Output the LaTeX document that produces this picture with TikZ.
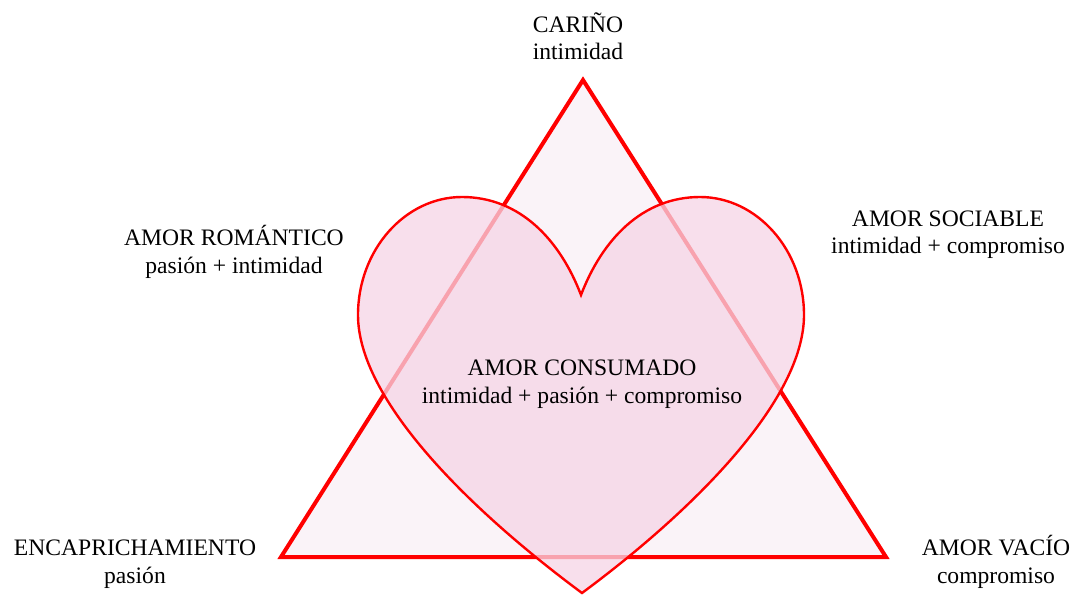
\documentclass[tikz,border=0pt]{standalone}
\usepackage{fontspec}
\setmainfont{Liberation Serif}
\definecolor{trifill}{RGB}{250,243,248}
\definecolor{heartfill}{RGB}{246,213,230}
\definecolor{lovered}{RGB}{255,0,0}
\begin{document}
\begin{tikzpicture}[x=1pt,y=-1pt,
  lbl/.style={align=center,anchor=base,inner sep=0pt,font=\fontsize{23.6}{27.5}\selectfont},
  tri/.style={draw=lovered,line width=4pt,fill=trifill,line join=miter},
  heartstyle/.style={draw=lovered,line width=2.4pt,fill=heartfill,fill opacity=0.76}]
\useasboundingbox (0,0) rectangle (1076,596);
\coordinate (apex) at (583,80);
\coordinate (bl) at (281,557);
\coordinate (br) at (886,557);
\draw[tri] (apex) -- (bl) -- (br) -- cycle;
\coordinate (notch) at (581,295);
\coordinate (ltop) at (462,197);
\coordinate (ledge) at (358,315);
\coordinate (tip) at (582,593);
\coordinate (redge) at (804,315);
\coordinate (rtop) at (700,197);
\draw[heartstyle] (notch) .. controls (560,240) and (520,197) .. (ltop)
  .. controls (405,197) and (358,250) .. (ledge)
  .. controls (358,400) and (470,510) .. (tip)
  .. controls (694,510) and (804,400) .. (redge)
  .. controls (804,250) and (757,197) .. (rtop)
  .. controls (642,197) and (602,240) .. (notch) -- cycle;
\node[lbl] (carino) at (578,60) {CARIÑO\\intimidad};
\node[lbl] (romantico) at (234,273) {AMOR ROMÁNTICO\\pasión + intimidad};
\node[lbl] (sociable) at (948,254) {AMOR SOCIABLE\\intimidad + compromiso};
\node[lbl] (consumado) at (582,403) {AMOR CONSUMADO\\intimidad + pasión + compromiso};
\node[lbl] (encap) at (135,583) {ENCAPRICHAMIENTO\\pasión};
\node[lbl] (vacio) at (996,583) {AMOR VACÍO\\compromiso};
\end{tikzpicture}
\end{document}
